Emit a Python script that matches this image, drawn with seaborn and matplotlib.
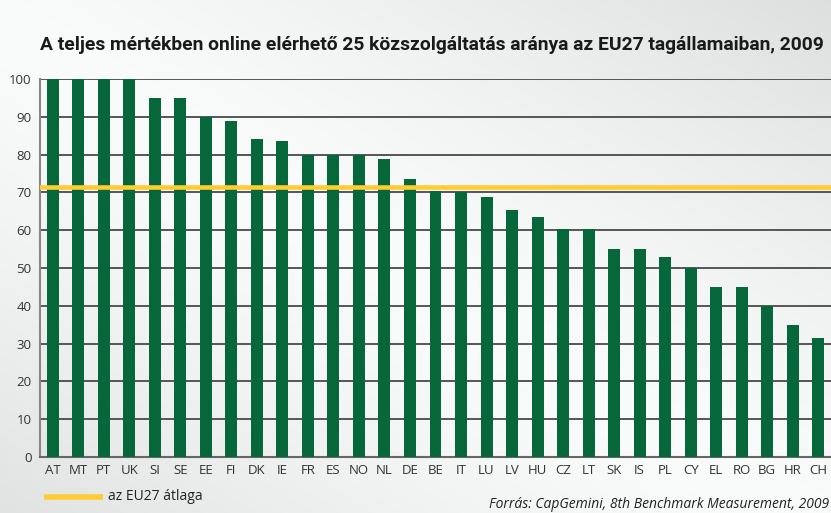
import numpy as np
import pandas as pd
import matplotlib
matplotlib.use("Agg")
import matplotlib.pyplot as plt
import seaborn as sns
from matplotlib.lines import Line2D

countries = ["AT", "MT", "PT", "UK", "SI", "SE", "EE", "FI", "DK", "IE", "FR", "ES", "NO", "NL", "DE",
             "BE", "IT", "LU", "LV", "HU", "CZ", "LT", "SK", "IS", "PL", "CY", "EL", "RO", "BG", "HR", "CH"]
values = [100, 100, 100, 100, 95, 95, 90, 89, 84.2, 83.5, 80, 80, 80, 78.9, 73.6,
          70.3, 70.2, 68.7, 65.3, 63.4, 60.2, 60.2, 55.1, 55.1, 52.8, 50.1, 45.1, 45.1, 40.0, 35.0, 31.5]
eu_average = 71.3
yticks = [0, 10, 20, 30, 40, 50, 60, 70, 80, 90, 100]

title = "A teljes mértékben online elérhető 25 közszolgáltatás aránya az EU27 tagállamaiban, 2009"
legend_label = "az EU27 átlaga"
source = "Forrás: CapGemini, 8th Benchmark Measurement, 2009"

df = pd.DataFrame({"country": countries, "value": values})

sns.set_theme(style="white")
plt.rcParams["font.family"] = ["Open Sans", "DejaVu Sans"]

W, H = 831, 513
fig = plt.figure(figsize=(W / 100, H / 100), dpi=100)

# background gradient
bg = fig.add_axes([0, 0, 1, 1], zorder=-10)
yy, xx = np.mgrid[0:1:200j, 0:1:300j]
d = (xx - 0.45) * 0.9 - (yy - 0.5) * 0.9
grad = 0.985 - 0.12 * np.abs(d) ** 1.3
bg.imshow(np.dstack([grad * 0.995, grad, grad * 1.0, np.ones_like(grad)]).clip(0, 1),
          extent=[0, 1, 0, 1], aspect="auto", origin="upper")
bg.axis("off")
bg.set_xlim(0, 1); bg.set_ylim(0, 1)

ax = fig.add_axes([40 / W, 56 / H, 791 / W, 378 / H])
ax.patch.set_alpha(0)
sns.barplot(data=df, x="country", y="value", color="#06673A", saturation=1,
            width=0.47, ax=ax, zorder=3, linewidth=0)
ax.axhline(eu_average, color="#FFCC33", lw=3.3, zorder=4)

ax.set_xlim(-0.5, len(countries) - 0.5)
ax.set_ylim(0, 100)
ax.set_yticks(yticks)
ax.set_yticklabels([str(t) for t in yticks], fontsize=9.5, color="#333333")
ax.yaxis.grid(True, color="#555555", lw=1.4, zorder=0)
ax.set_axisbelow(True)
ax.set_xlabel("")
ax.set_ylabel("")
ax.tick_params(axis="x", length=0, labelsize=9.5, labelcolor="#333333", pad=5)
ax.set_xticks(np.arange(-0.5, len(countries), 1.0), minor=True)
ax.tick_params(axis="x", which="minor", length=4, width=1, color="#666666", direction="out")
ax.tick_params(axis="y", length=4, width=1, color="#666666", direction="out", pad=2)
for s in ["top", "right"]:
    ax.spines[s].set_visible(False)
ax.spines["left"].set_color("#888888")
ax.spines["left"].set_linewidth(1.5)
ax.spines["bottom"].set_color("#666666")
ax.spines["bottom"].set_linewidth(1.5)

t = fig.text(40 / W, 1 - 45 / H, title, fontsize=13, fontweight="bold", color="#1a1a1a",
             family=["Roboto", "DejaVu Sans"], va="center", ha="left")
# fit title width to reference (~782 px)
fig.canvas.draw()
r = fig.canvas.get_renderer()
wpx = t.get_window_extent(r).width
t.set_fontsize(13 * 782 / wpx)

fig.add_artist(Line2D([44 / W, 103 / W], [1 - 497 / H, 1 - 497 / H], color="#FFCC33", lw=4,
                      solid_capstyle="butt"))
fig.text(108 / W, 1 - 497 / H, legend_label, fontsize=10, color="#222222", va="center", ha="left")
fig.text(829 / W, 1 - 505 / H, source, fontsize=10, style="italic", color="#222222",
         va="center", ha="right")

fig.savefig("out.png", dpi=100)
